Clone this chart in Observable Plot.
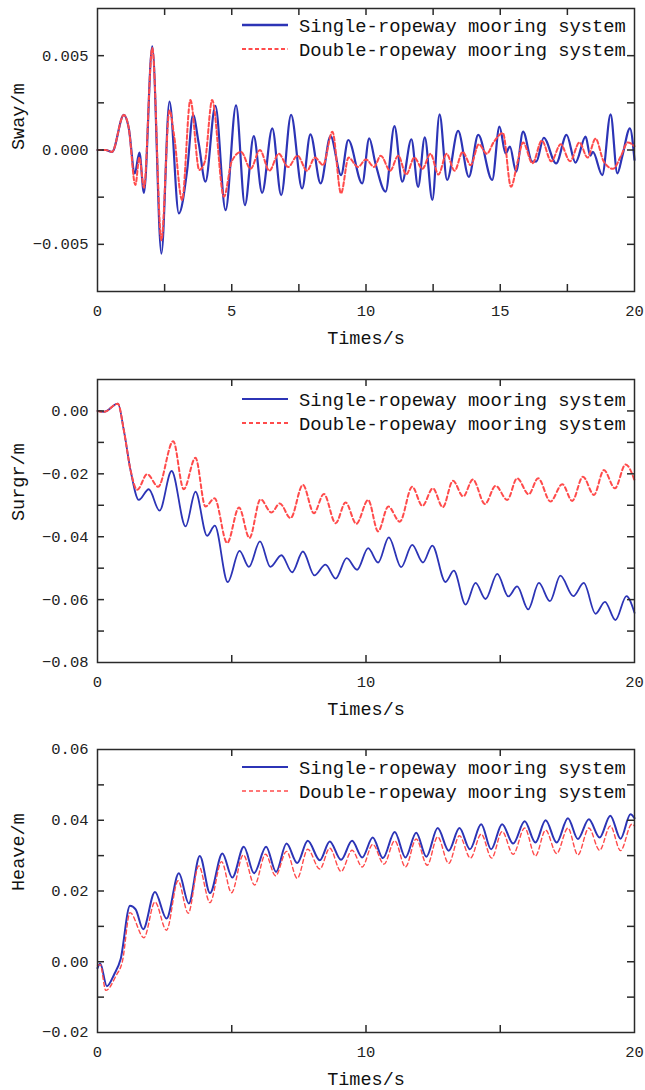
<!DOCTYPE html>
<html><head><meta charset="utf-8">
<script src="https://cdn.jsdelivr.net/npm/d3@7"></script>
<script src="https://cdn.jsdelivr.net/npm/@observablehq/plot@0.6"></script>
<style>
body{margin:0;background:#fff;}
#wrap{position:relative;width:645px;height:1090px;overflow:hidden;background:#fff;}
#wrap svg{position:absolute;left:0;}
</style></head><body><div id="wrap"></div>
<script>
// values in units of 1e-3 m, [time s, value]
const MM = 1e-3;
const seriesNames = ["Single-ropeway mooring system", "Double-ropeway mooring system"];
const xTitle = "Times/s";

const swaySingle = [[0,0],[0.3,0],[0.54,-0.1],[0.98,1.86],[1.16,1.2],[1.39,-1.24],[1.56,-0.14],[1.73,-2.27],[2.04,5.49],[2.38,-5.49],[2.68,2.57],[3.03,-3.36],[3.34,-1.06],[3.56,1.86],[3.77,0.35],[4.02,-1.68],[4.39,2.34],[4.77,-3.19],[5.16,2.37],[5.49,-2.92],[5.82,0.74],[6.13,-2.27],[6.51,1.15],[6.84,-2.39],[7.21,1.86],[7.62,-2.04],[7.93,0.83],[8.31,-1.77],[8.68,0.74],[9.07,-1.33],[9.34,0.53],[9.86,-1.77],[10.12,0.62],[10.35,-0.7],[10.73,-2.21],[11.06,1.27],[11.35,-1.68],[11.69,0.57],[11.94,-1.95],[12.19,0.67],[12.47,-2.65],[12.74,1.89],[13.02,-1.59],[13.43,1.01],[13.83,-1.42],[14.18,0.8],[14.7,-1.59],[14.97,1.24],[15.2,-0.18],[15.36,0.18],[15.59,-1.15],[15.85,0.97],[16.19,-0.62],[16.35,-0.6],[16.62,0.65],[17.08,-0.71],[17.47,0.8],[17.8,-0.67],[18.18,0.71],[18.35,-0.3],[18.45,-0.1],[18.8,-1.33],[19.11,1.89],[19.36,-1.24],[19.55,-0.3],[19.83,1.15],[20,-0.53]];
const swayDouble = [[0,0],[0.3,0],[0.54,-0.1],[0.98,1.86],[1.16,1.2],[1.41,-1.86],[1.56,-0.4],[1.73,-2.0],[2.04,5.4],[2.38,-4.78],[2.68,2.1],[2.85,0.8],[3.15,-2.65],[3.46,2.65],[3.79,-1.06],[4.0,-0.6],[4.27,2.65],[4.71,-2.48],[5.0,-0.6],[5.35,-0.1],[5.7,-1.0],[6.05,0.0],[6.4,-1.1],[6.75,-0.2],[7.1,-0.9],[7.45,-0.3],[7.8,-1.1],[8.1,-0.4],[8.4,-0.8],[8.75,0.97],[9.07,-2.3],[9.35,-0.4],[9.7,-0.9],[10.0,-0.5],[10.3,-0.9],[10.55,-0.3],[10.9,-1.1],[11.2,-0.3],[11.5,-1.3],[11.8,-0.4],[12.1,-1.0],[12.4,-0.2],[12.7,-1.3],[13.0,-0.2],[13.3,-1.1],[13.6,-0.1],[13.9,-0.8],[14.2,0.3],[14.5,-0.2],[14.75,0.4],[15.1,0.9],[15.4,-1.95],[15.65,-0.6],[15.85,0.4],[16.2,-0.7],[16.55,0.5],[16.9,-0.6],[17.25,0.3],[17.6,-0.6],[17.95,0.4],[18.25,-0.4],[18.55,0.6],[18.85,-0.6],[19.2,-1.0],[19.5,-0.3],[19.75,0.4],[20,0.2]];

const surgeSingle = [[0,0],[0.24,-0.3],[0.76,2.3],[0.98,-6.1],[1.23,-18.8],[1.54,-28.3],[1.91,-24.9],[2.31,-31.7],[2.76,-19.1],[3.28,-36.7],[3.65,-25.7],[4.08,-39.7],[4.37,-36.5],[4.85,-54.4],[5.29,-44.5],[5.64,-49.6],[6.05,-41.5],[6.44,-49.6],[6.85,-45.9],[7.25,-51.3],[7.65,-44.7],[8.08,-52.3],[8.49,-48.9],[8.87,-53.3],[9.28,-46.8],[9.67,-50.5],[10.08,-43.6],[10.45,-48.2],[10.85,-40.2],[11.31,-49.7],[11.72,-42.6],[12.12,-48.2],[12.47,-42.8],[12.96,-54.4],[13.27,-50.8],[13.71,-61.6],[14.08,-54.7],[14.45,-59.8],[14.89,-51.8],[15.3,-59.0],[15.63,-55.8],[16.04,-63.1],[16.44,-54.7],[16.85,-60.5],[17.24,-52.4],[17.72,-58.9],[18.11,-54.7],[18.55,-64.5],[18.9,-60.7],[19.29,-66.5],[19.7,-58.9],[20,-64.2]];
const surgeDouble = [[0,0],[0.24,-0.3],[0.76,2.3],[0.98,-6.1],[1.23,-18.8],[1.48,-25.1],[1.85,-20.1],[2.26,-24.1],[2.82,-9.6],[3.21,-24.9],[3.65,-14.9],[4.02,-30.4],[4.36,-27.8],[4.83,-42.0],[5.27,-30.7],[5.66,-40.4],[6.07,-28.1],[6.48,-32.3],[6.79,-29.4],[7.19,-34.1],[7.65,-23.5],[8.06,-32.5],[8.43,-26.4],[8.87,-35.7],[9.24,-29.1],[9.64,-35.9],[10.08,-28.3],[10.45,-38.3],[10.83,-30.4],[11.26,-35.2],[11.72,-24.1],[12.1,-30.2],[12.49,-24.6],[12.86,-30.6],[13.24,-22.2],[13.62,-27.2],[13.98,-21.8],[14.43,-29.6],[14.83,-23.8],[15.26,-28.3],[15.63,-21.4],[16.06,-26.5],[16.41,-21.4],[16.87,-28.8],[17.31,-23.3],[17.68,-28.6],[18.08,-20.9],[18.49,-26.7],[18.86,-18.8],[19.27,-24.6],[19.67,-17.0],[20,-22.0]];

const heaveSingle = [[0,-1.8],[0.1,-0.5],[0.35,-6.9],[0.62,-3.6],[0.86,0.7],[1.21,15.8],[1.42,14.8],[1.7,9.2],[2.14,19.7],[2.57,12.2],[3.03,25.0],[3.4,16.5],[3.81,29.9],[4.19,19.4],[4.65,30.6],[5.02,23.8],[5.45,32.5],[5.83,25.0],[6.28,32.5],[6.65,25.4],[7.04,33.4],[7.44,27.9],[7.83,34.2],[8.28,28.7],[8.65,34.0],[9.07,28.8],[9.48,34.2],[9.86,29.5],[10.25,35.1],[10.63,29.3],[11.07,36.7],[11.47,29.5],[11.87,36.5],[12.25,29.7],[12.67,37.8],[13.08,31.4],[13.48,37.8],[13.87,31.8],[14.29,38.9],[14.66,31.8],[15.07,38.9],[15.48,33.4],[15.91,39.7],[16.31,33.7],[16.69,40.0],[17.1,33.7],[17.52,40.6],[17.89,34.7],[18.3,40.3],[18.7,35.1],[19.1,41.3],[19.48,34.8],[19.85,41.7],[20,40.6]];
const heaveDouble = [[0,-1.0],[0.1,-0.8],[0.31,-8.1],[0.68,-4.1],[0.93,0.2],[1.21,13.9],[1.73,6.8],[2.14,16.9],[2.57,8.9],[3.0,22.9],[3.38,13.7],[3.77,27.1],[4.19,16.7],[4.62,28.3],[4.99,19.5],[5.43,30.2],[5.85,21.7],[6.26,30.4],[6.63,24.3],[7.04,31.2],[7.44,23.6],[7.83,31.8],[8.28,26.2],[8.65,32.1],[9.07,25.5],[9.48,31.5],[9.86,26.8],[10.25,33.2],[10.67,27.6],[11.07,34.2],[11.47,26.8],[11.87,34.7],[12.28,27.3],[12.67,35.3],[13.08,27.8],[13.48,35.6],[13.89,29.3],[14.29,36.1],[14.68,29.3],[15.07,36.8],[15.48,30.4],[15.91,37.8],[16.31,29.9],[16.69,37.2],[17.1,30.6],[17.52,37.8],[17.89,30.2],[18.3,37.8],[18.7,31.5],[19.1,38.4],[19.48,31.4],[19.9,38.9],[20,38.4]];

// axis tick values
const swayYLabels = [-0.005, 0, 0.005];
const swayYTicks = [-0.005, -0.0025, 0, 0.0025, 0.005];
const swayXLabels = [0, 5, 10, 15, 20];
const swayXTicks = [2.5, 5, 7.5, 10, 12.5, 15, 17.5];
const surgeYLabels = [0, -0.02, -0.04, -0.06, -0.08];
const surgeYTicks = [0, -0.01, -0.02, -0.03, -0.04, -0.05, -0.06, -0.07];
const heaveYLabels = [0.06, 0.04, 0.02, 0, -0.02];
const heaveYTicks = [0.05, 0.04, 0.03, 0.02, 0.01, 0, -0.01];
const xLabels2 = [0, 10, 20];
const xTicks2 = [5, 10, 15];

const BLUE = "#2c34b6", RED = "#ff4b4b", INK = "#2a2a2a";
const FONT = "'Liberation Mono', 'DejaVu Sans Mono', monospace";
const W = 645, H = 350, ML = 97, MR = 11, FH = 283;

const panels = [
  {top: 0, mt: 8, title: "Sway/m", single: swaySingle, double: swayDouble, domain: [-0.0075, 0.0075],
   yLabels: swayYLabels, yTicks: swayYTicks, xLabels: swayXLabels, xTicks: swayXTicks, fmt: ".3f",
   bw: 2.2, rw: 2, dash: "4,2.5", leg: [17, 41], lbw: 2.6, lrw: 2},
  {top: 370, mt: 9, title: "Surgr/m", single: surgeSingle, double: surgeDouble, domain: [-0.08, 0.01],
   yLabels: surgeYLabels, yTicks: surgeYTicks, xLabels: xLabels2, xTicks: xTicks2, fmt: ".2f",
   bw: 1.8, rw: 2, dash: "4,3", leg: [20, 44], lbw: 1.8, lrw: 2},
  {top: 740, mt: 9, title: "Heave/m", single: heaveSingle, double: heaveDouble, domain: [-0.02, 0.06],
   yLabels: heaveYLabels, yTicks: heaveYTicks, xLabels: xLabels2, xTicks: xTicks2, fmt: ".2f",
   bw: 2, rw: 1.4, dash: "4,3", leg: [18, 42], lbw: 2.2, lrw: 1.4}
];

const wrap = document.getElementById("wrap");

for (const p of panels) {
  const TL = 7;
  const chart = Plot.plot({
    width: W, height: H,
    marginLeft: ML, marginRight: MR, marginTop: p.mt, marginBottom: H - p.mt - FH,
    x: {domain: [0, 20]},
    y: {domain: p.domain},
    style: {fontFamily: FONT, fontSize: "15.5px", color: "#222", background: "transparent"},
    marks: [
      Plot.line(p.single, {x: d => d[0], y: d => d[1] * MM, curve: "monotone-x", stroke: BLUE, strokeWidth: p.bw}),
      Plot.line(p.double, {x: d => d[0], y: d => d[1] * MM, curve: "monotone-x", stroke: RED, strokeWidth: p.rw, strokeDasharray: p.dash}),
      Plot.tickX(p.xTicks, {x: d => d, insetTop: FH - TL, stroke: INK, strokeWidth: 1.5}),
      Plot.tickX(p.xTicks, {x: d => d, insetBottom: FH - TL, stroke: INK, strokeWidth: 1.5}),
      Plot.tickY(p.yTicks, {y: d => d, insetRight: (W - ML - MR) - TL, stroke: INK, strokeWidth: 1.5}),
      Plot.tickY(p.yTicks, {y: d => d, insetLeft: (W - ML - MR) - TL, stroke: INK, strokeWidth: 1.5}),
      Plot.axisX({ticks: p.xLabels, tickSize: 0, tickPadding: 13, tickFormat: d3.format("d"), label: null}),
      Plot.axisY({ticks: p.yLabels, tickSize: 0, tickPadding: 9, tickFormat: d3.format(p.fmt), label: null}),
      Plot.text([xTitle], {text: d => d, frameAnchor: "bottom", dy: 47, fontSize: 18.5, lineAnchor: "middle", fill: "#111"}),
      Plot.text([p.title], {text: d => d, frameAnchor: "left", dx: -79, rotate: -90, fontSize: 18.5, lineAnchor: "middle", fill: "#111"}),
      Plot.frame({stroke: INK, strokeWidth: 1.5})
    ]
  });
  chart.style.top = p.top + "px";
  wrap.appendChild(chart);

  // legend (inside top-right of frame)
  const leg = d3.create("svg").attr("width", W).attr("height", H).style("top", p.top + "px")
    .style("font-family", FONT);
  const y0 = p.mt + p.leg[0], y1 = p.mt + p.leg[1];
  const rows = [
    {y: y0, stroke: BLUE, w: p.lbw, dash: null, name: seriesNames[0]},
    {y: y1, stroke: RED, w: p.lrw, dash: p.dash, name: seriesNames[1]}
  ];
  for (const r of rows) {
    leg.append("line").attr("x1", 242).attr("x2", 288).attr("y1", r.y).attr("y2", r.y)
      .attr("stroke", r.stroke).attr("stroke-width", r.w).attr("stroke-dasharray", r.dash);
    leg.append("text").attr("x", 299).attr("y", r.y + 6.5).attr("font-size", 18.8).attr("fill", "#111")
      .text(r.name);
  }
  wrap.appendChild(leg.node());
}
</script></body></html>
